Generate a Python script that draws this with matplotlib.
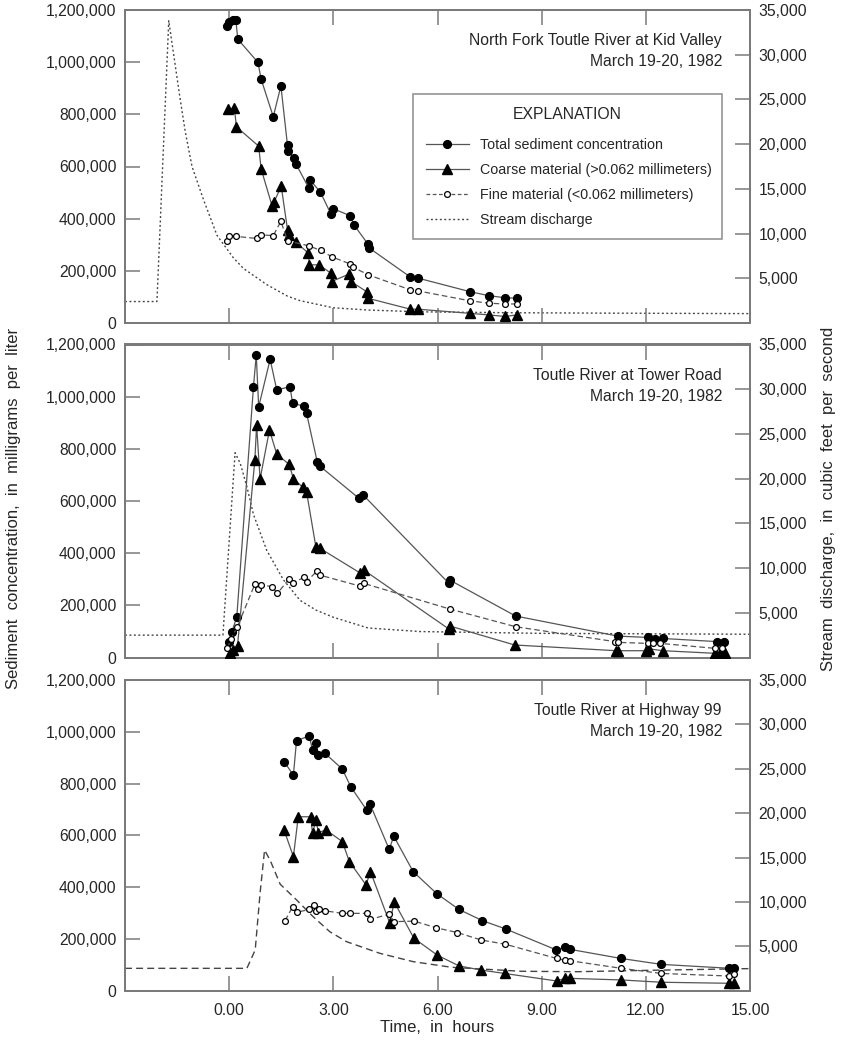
import matplotlib
matplotlib.use("Agg")
import matplotlib.pyplot as plt
from matplotlib.lines import Line2D
from matplotlib.ticker import FuncFormatter, FixedLocator

plt.rcParams['font.family'] = ['Liberation Sans', 'DejaVu Sans']

# ---------------- North Fork Toutle River at Kid Valley ----------------
kv_total_t = [-0.07, 0.0, 0.10, 0.19, 0.25, 0.83, 0.92, 1.27, 1.49, 1.68, 1.70, 1.88, 1.92,
              2.29, 2.34, 2.63, 2.93, 3.0, 3.49, 3.59, 4.0, 4.04, 5.22, 5.44, 6.94, 7.47, 7.93, 8.28]
kv_total_c = [1140000, 1155000, 1160000, 1162000, 1088000, 999000, 935000, 791000, 909000,
              681000, 659000, 631000, 611000, 518000, 547000, 501000, 418000, 438000, 411000,
              377000, 302000, 287000, 176000, 172000, 120000, 105000, 97000, 95000]
kv_coarse_t = [-0.03, 0.15, 0.21, 0.85, 0.92, 1.24, 1.29, 1.50, 1.68, 1.71, 1.92, 2.28, 2.31,
               2.59, 2.93, 2.95, 3.46, 3.51, 3.96, 3.99, 5.22, 5.43, 6.94, 7.47, 7.95, 8.28]
kv_coarse_c = [819000, 823000, 752000, 678000, 591000, 447000, 463000, 524000, 358000, 338000,
               310000, 268000, 223000, 223000, 191000, 159000, 188000, 159000, 120000, 95000,
               53000, 53000, 37000, 31000, 25000, 31000]
kv_fine_t = [-0.06, 0.0, 0.2, 0.8, 0.92, 1.27, 1.49, 1.68, 2.29, 2.64, 2.97, 3.49, 3.57, 4.0,
             5.22, 5.44, 6.94, 7.47, 7.93, 8.28]
kv_fine_c = [313000, 335000, 332000, 324000, 338000, 335000, 390000, 315000, 296000, 278000,
             253000, 226000, 214000, 185000, 127000, 123000, 85000, 76000, 73000, 73000]
kv_q_t = [-3.0, -2.08, -1.74, -1.41, -1.26, -1.07, -0.74, -0.35, 0.12, 0.41, 1.08, 1.68,
          2.04, 3.0, 4.0, 5.5, 8.0, 11.0, 15.0]
kv_q = [2400, 2400, 33800, 25000, 21300, 17500, 13800, 9800, 7300, 6100, 4300, 3000,
        2500, 1700, 1450, 1250, 1150, 1100, 1050]

# ---------------- Toutle River at Tower Road ----------------
tr_total_t = [0.0, 0.08, 0.22, 0.70, 0.78, 0.85, 1.18, 1.37, 1.75, 1.83, 2.16, 2.23, 2.54,
              2.61, 3.74, 3.86, 6.33, 6.35, 8.25, 11.19, 12.05, 12.27, 12.48, 14.04, 14.25]
tr_total_c = [61000, 99000, 156000, 1038000, 1160000, 961000, 1143000, 1026000, 1038000,
              974000, 964000, 936000, 748000, 734000, 610000, 623000, 284000, 297000, 159000,
              82000, 77000, 70000, 73000, 61000, 58000]
tr_coarse_t = [0.03, 0.12, 0.24, 0.74, 0.79, 0.89, 1.16, 1.37, 1.73, 1.85, 2.13, 2.23, 2.50,
               2.61, 3.76, 3.88, 6.33, 6.35, 8.22, 11.15, 11.2, 12.0, 12.1, 12.5, 14.0, 14.15,
               14.27]
tr_coarse_c = [16000, 29000, 44000, 757000, 891000, 684000, 872000, 780000, 740000, 685000,
               652000, 634000, 422000, 419000, 325000, 335000, 109000, 121000, 48000, 26000,
               26000, 26000, 33000, 26000, 16000, 16000, 16000]
tr_fine_t = [-0.05, 0.05, 0.23, 0.74, 0.83, 0.92, 1.23, 1.39, 1.72, 1.83, 2.16, 2.23, 2.54,
             2.61, 3.76, 3.88, 6.35, 8.25, 11.1, 11.2, 12.06, 12.22, 12.42, 14.0, 14.2]
tr_fine_c = [35000, 70000, 116000, 281000, 261000, 278000, 272000, 246000, 300000, 287000,
             307000, 291000, 333000, 316000, 274000, 284000, 186000, 118000, 61000, 58000,
             54000, 54000, 54000, 35000, 38000]
tr_q_t = [-3.0, -0.18, 0.17, 0.32, 0.51, 0.70, 1.08, 1.56, 2.04, 2.5, 3.0, 4.0, 5.5, 9.0, 15.0]
tr_q = [2500, 2500, 22900, 21700, 19100, 16000, 12000, 8700, 6400, 5300, 4500, 3300, 2900,
        2700, 2600]

# ---------------- Toutle River at Highway 99 ----------------
hw_total_t = [1.58, 1.85, 1.94, 2.31, 2.40, 2.50, 2.57, 2.76, 3.26, 3.50, 3.96, 4.05, 4.61,
              4.74, 5.30, 5.98, 6.62, 7.29, 7.96, 9.42, 9.67, 9.82, 11.28, 12.45, 14.4, 14.54]
hw_total_c = [885000, 833000, 966000, 984000, 929000, 958000, 912000, 917000, 856000, 788000,
              698000, 723000, 546000, 597000, 460000, 375000, 314000, 271000, 239000, 158000,
              168000, 160000, 125000, 102000, 87000, 87000]
hw_coarse_t = [1.58, 1.85, 1.99, 2.35, 2.40, 2.50, 2.57, 2.79, 3.26, 3.46, 3.94, 4.07, 4.63,
               4.75, 5.32, 5.99, 6.62, 7.26, 7.93, 9.43, 9.67, 9.82, 11.28, 12.45, 14.4, 14.54]
hw_coarse_c = [621000, 518000, 672000, 672000, 608000, 659000, 611000, 621000, 576000, 499000,
               409000, 460000, 260000, 344000, 203000, 138000, 96000, 80000, 67000, 38000,
               48000, 48000, 42000, 33000, 29000, 29000]
hw_fine_t = [1.61, 1.83, 1.94, 2.31, 2.45, 2.50, 2.60, 2.76, 3.26, 3.48, 3.96, 4.07, 4.61,
             4.75, 5.33, 5.97, 6.57, 7.26, 7.95, 9.43, 9.67, 9.82, 11.28, 12.45, 14.4, 14.54]
hw_fine_c = [271000, 325000, 303000, 314000, 331000, 309000, 316000, 309000, 299000, 299000,
             299000, 276000, 296000, 267000, 269000, 243000, 225000, 196000, 180000, 125000,
             118000, 116000, 87000, 67000, 57000, 64000]
hw_q_t = [-3.0, 0.51, 0.75, 0.89, 1.02, 1.18, 1.47, 1.95, 2.42, 2.9, 3.38, 4.34, 5.3, 6.4,
          8.4, 10.0, 12.0, 15.0]
hw_q = [2530, 2530, 4600, 11000, 15850, 14700, 12000, 10200, 8340, 6650, 5530, 4220, 3280,
        2650, 2200, 2150, 2300, 2500]

site_names = ["North Fork Toutle River at Kid Valley",
              "Toutle River at Tower Road",
              "Toutle River at Highway 99"]
event_date = "March 19-20, 1982"
time_ticks = [0, 3, 6, 9, 12, 15]
conc_ticks = [0, 200000, 400000, 600000, 800000, 1000000, 1200000]
flow_ticks = [5000, 10000, 15000, 20000, 25000, 30000, 35000]

# ---------------- styling ----------------
LINE_C = "#555555"
SPINE_C = "#7a7a7a"
TEXT_C = "#262626"
TICK_FS = 11.3

panels = [
    dict(total=(kv_total_t, kv_total_c), coarse=(kv_coarse_t, kv_coarse_c),
         fine=(kv_fine_t, kv_fine_c), flow=(kv_q_t, kv_q), flow_ls=(0, (1.4, 1.8)),
         rect=[125 / 841, 1 - 323 / 1040, 625 / 841, 313 / 1040]),
    dict(total=(tr_total_t, tr_total_c), coarse=(tr_coarse_t, tr_coarse_c),
         fine=(tr_fine_t, tr_fine_c), flow=(tr_q_t, tr_q), flow_ls=(0, (1.4, 1.8)),
         rect=[125 / 841, 1 - 657.5 / 1040, 625 / 841, 313 / 1040]),
    dict(total=(hw_total_t, hw_total_c), coarse=(hw_coarse_t, hw_coarse_c),
         fine=(hw_fine_t, hw_fine_c), flow=(hw_q_t, hw_q), flow_ls=(0, (5, 3)),
         rect=[125 / 841, 1 - 990.8 / 1040, 625 / 841, 310.8 / 1040]),
]

comma = FuncFormatter(lambda v, p: f"{v:,.0f}")

fig = plt.figure(figsize=(8.41, 10.40), dpi=100)

for i, p in enumerate(panels):
    ax = fig.add_axes(p["rect"])
    ax2 = ax.twinx()
    ax.set_zorder(ax2.get_zorder() + 1)
    ax.patch.set_visible(False)

    # discharge on the right-hand scale
    ax2.plot(p["flow"][0], p["flow"][1], color="#444444", lw=1.0,
             linestyle=p["flow_ls"])

    # sediment series
    ax.plot(*p["total"], color=LINE_C, lw=0.9, marker="o", ms=5.6,
            mfc="black", mec="black", zorder=4)
    ax.plot(*p["coarse"], color=LINE_C, lw=0.9, marker="^", ms=6.6,
            mfc="black", mec="black", zorder=4)
    ax.plot(*p["fine"], color=LINE_C, lw=0.9, linestyle=(0, (4.5, 2.5)), marker="o",
            ms=4.2, mfc="white", mec="black", mew=0.9, zorder=5)

    ax.set_xlim(-3, 15)
    ax.set_ylim(0, 1200000)
    ax2.set_ylim(0, 35000)

    ax.xaxis.set_major_locator(FixedLocator(time_ticks))
    ax.yaxis.set_major_locator(FixedLocator(conc_ticks))
    ax.yaxis.set_major_formatter(comma)
    ax2.yaxis.set_major_locator(FixedLocator(flow_ticks))
    ax2.yaxis.set_major_formatter(comma)

    ax.tick_params(axis="both", direction="in", length=11, width=1.1, color=SPINE_C,
                   labelsize=TICK_FS, labelcolor=TEXT_C, pad=6, top=True)
    ax2.tick_params(axis="y", direction="in", length=11, width=1.1, color=SPINE_C,
                    labelsize=TICK_FS, labelcolor=TEXT_C, pad=6)
    if i < 2:
        ax.tick_params(axis="x", labelbottom=False)
    else:
        ax.xaxis.set_major_formatter(FuncFormatter(lambda v, p: f"{v:.2f}"))
        ax.tick_params(axis="x", pad=9)

    for a in (ax, ax2):
        for s in a.spines.values():
            s.set_color(SPINE_C)
            s.set_linewidth(1.4)

    ax.text(0.955, 1 - 31 / 313, site_names[i], transform=ax.transAxes,
            ha="right", va="center", fontsize=11.3, color=TEXT_C)
    ax.text(0.955, 1 - 52 / 313, event_date, transform=ax.transAxes,
            ha="right", va="center", fontsize=11.3, color=TEXT_C)

    if i == 0:
        handles = [
            Line2D([], [], color=LINE_C, lw=0.9, marker="o", ms=5.6, mfc="black", mec="black"),
            Line2D([], [], color=LINE_C, lw=0.9, marker="^", ms=6.6, mfc="black", mec="black"),
            Line2D([], [], color=LINE_C, lw=0.9, linestyle=(0, (3, 2)), marker="o", ms=4.2,
                   mfc="white", mec="black", mew=0.9),
            Line2D([], [], color="#444444", lw=1.0, linestyle=(0, (1.4, 1.8))),
        ]
        labels = ["Total sediment concentration",
                  "Coarse material (>0.062 millimeters)",
                  "Fine material (<0.062 millimeters)",
                  "Stream discharge"]
        leg = ax.legend(handles, labels, title="EXPLANATION", loc="upper left",
                        bbox_to_anchor=(0.461, 0.272, 0.494, 0.46), mode="expand",
                        fontsize=10.3, title_fontsize=11.3, frameon=True, fancybox=False,
                        edgecolor=SPINE_C, handlelength=3.0, handletextpad=0.8,
                        labelspacing=0.75, borderpad=0.9, borderaxespad=0.0)
        leg.get_frame().set_linewidth(1.2)
        leg.get_title().set_color(TEXT_C)
        for t in leg.get_texts():
            t.set_color(TEXT_C)
        leg._legend_box.sep = 12
        leg.set_zorder(10)

fig.text(0.016, 0.511, "Sediment  concentration,  in  milligrams  per  liter",
         rotation=90, ha="center", va="center", fontsize=12, color=TEXT_C)
fig.text(0.985, 0.52, "Stream  discharge,  in  cubic  feet  per  second",
         rotation=90, ha="center", va="center", fontsize=12, color=TEXT_C)
fig.text(437 / 841, 1 - 1028 / 1040, "Time,  in  hours",
         ha="center", va="center", fontsize=12, color=TEXT_C)

fig.savefig("out.png", dpi=100)
